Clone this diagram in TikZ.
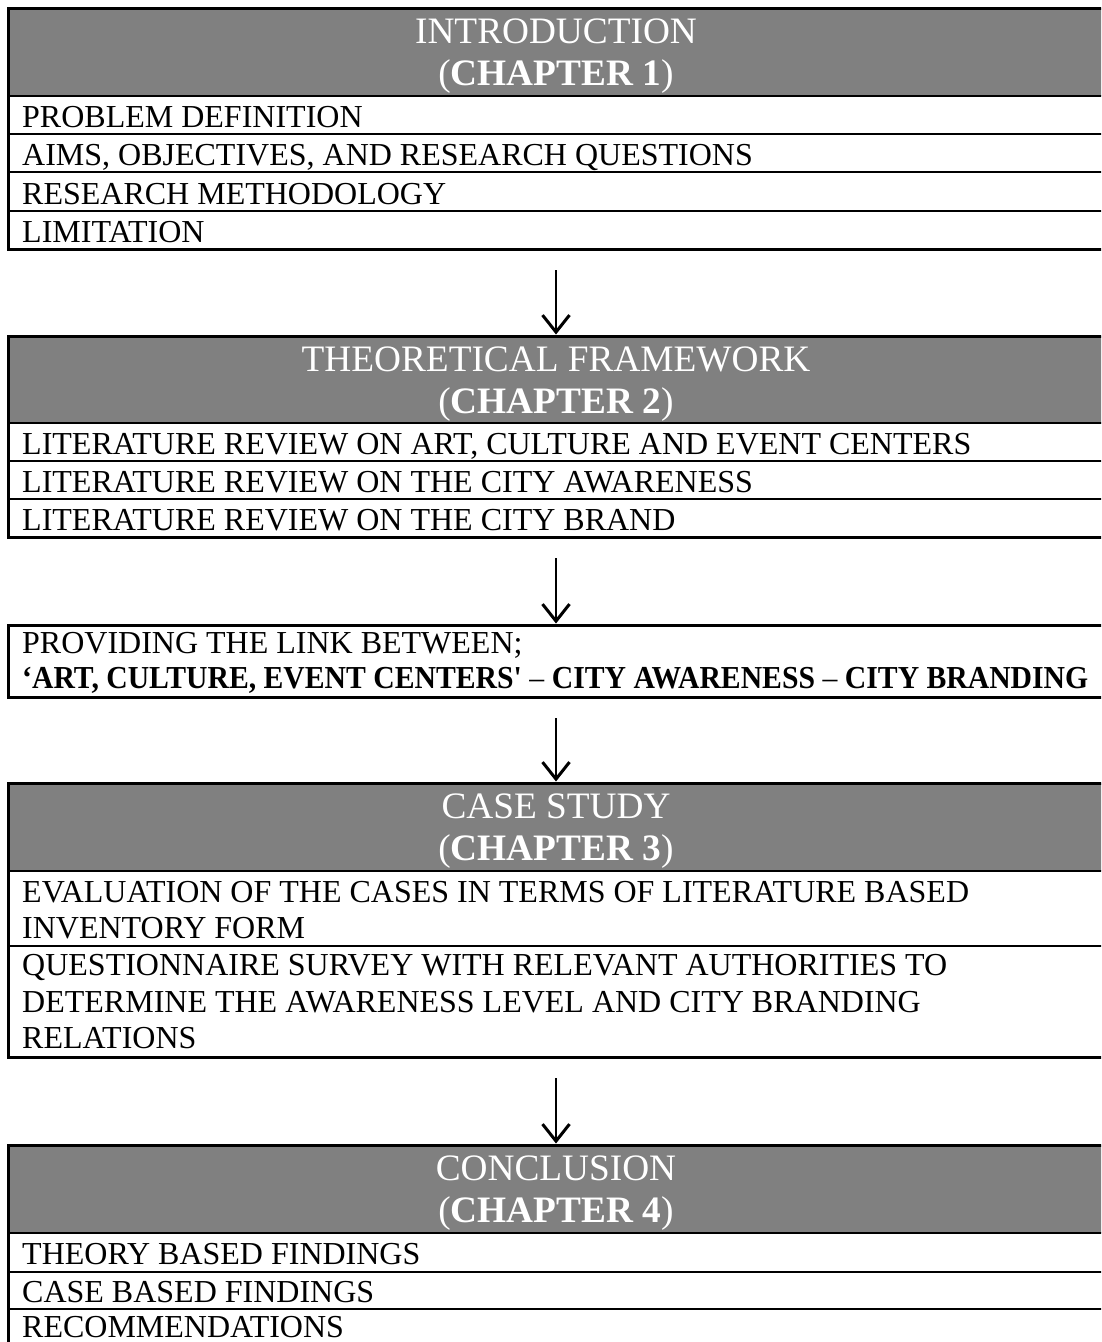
\documentclass[tikz,border=0pt]{standalone}
\usepackage{graphicx}
\usepackage{fontspec}
\setmainfont{Liberation Serif}[Ligatures=TeXOff]
\usetikzlibrary{arrows.meta}
\definecolor{headgray}{HTML}{808080}

\begin{document}
\begin{tikzpicture}[x=1pt,y=-1pt,
  frame/.style={draw=black, line width=3pt, anchor=north west, minimum width=1096pt,
                inner sep=0pt, outer sep=0pt},
  band/.style={fill=headgray, anchor=north west, minimum width=1096pt, minimum height=88pt,
               inner sep=0pt, outer sep=0pt},
  rule/.style={line width=2pt},
  item/.style={anchor=base west, inner sep=0pt, font=\fontsize{32}{37}\selectfont},
  title/.style={anchor=base, inner sep=0pt, text=white, font=\fontsize{37.3}{42}\selectfont},
  flow/.style={line width=2.5pt, -{Straight Barb[length=17pt,width=27pt,line width=3pt]},
               shorten <=21pt, shorten >=1.5pt},
]
\useasboundingbox (0,0) rectangle (1101,1342);
\clip (0,0) rectangle (1101,1342);

% ---------- Chapter 1 ----------
\node[band] (introhead) at (8,8) {};
\node[title] (introt1) at (556,43) {INTRODUCTION};
\node[title] (introt2) at (556,85) {(\textbf{CHAPTER 1})};
\foreach \y in {96,134,172,211} \draw[rule] (8,\y) -- (1104,\y);
\node[item] (i1) at (22,127) {PROBLEM DEFINITION};
\node[item] (i2) at (22,165) {AIMS, OBJECTIVES, AND RESEARCH QUESTIONS};
\node[item] (i3) at (22,204) {RESEARCH METHODOLOGY};
\node[item] (i4) at (22,242) {LIMITATION};
\node[frame, minimum height=241pt] (intro) at (8,8) {};

% ---------- Chapter 2 ----------
\node[band] (theoryhead) at (8,336) {};
\node[title] (theoryt1) at (556,371) {THEORETICAL FRAMEWORK};
\node[title] (theoryt2) at (556,413) {(\textbf{CHAPTER 2})};
\foreach \y in {423,461,499} \draw[rule] (8,\y) -- (1104,\y);
\node[item] (t1) at (22,454) {LITERATURE REVIEW ON ART, CULTURE AND EVENT CENTERS};
\node[item] (t2) at (22,492) {LITERATURE REVIEW ON THE CITY AWARENESS};
\node[item] (t3) at (22,530) {LITERATURE REVIEW ON THE CITY BRAND};
\node[frame, minimum height=201pt] (theory) at (8,336) {};

% ---------- Link ----------
\node[item] (l1) at (22,653) {PROVIDING THE LINK BETWEEN;};
\node[item] (l2) at (22,688) {\scalebox{0.928}[1]{\textbf{‘ART, CULTURE, EVENT CENTERS'} – \textbf{CITY AWARENESS} – \textbf{CITY BRANDING}}};
\node[frame, minimum height=72pt] (link) at (8,625) {};

% ---------- Chapter 3 ----------
\node[band] (casehead) at (8,783) {};
\node[title] (caset1) at (556,818) {CASE STUDY};
\node[title] (caset2) at (556,860) {(\textbf{CHAPTER 3})};
\foreach \y in {871,946} \draw[rule] (8,\y) -- (1104,\y);
\node[item] (c1) at (22,902) {EVALUATION OF THE CASES IN TERMS OF LITERATURE BASED};
\node[item] (c2) at (22,938) {INVENTORY FORM};
\node[item] (c3) at (22,975) {QUESTIONNAIRE SURVEY WITH RELEVANT AUTHORITIES TO};
\node[item] (c4) at (22,1012) {DETERMINE THE AWARENESS LEVEL AND CITY BRANDING};
\node[item] (c5) at (22,1048) {RELATIONS};
\node[frame, minimum height=274pt] (cases) at (8,783) {};

% ---------- Chapter 4 ----------
\node[band] (conchead) at (8,1145) {};
\node[title] (conct1) at (556,1180) {CONCLUSION};
\node[title] (conct2) at (556,1222) {(\textbf{CHAPTER 4})};
\foreach \y in {1233,1272,1309} \draw[rule] (8,\y) -- (1104,\y);
\node[item] (k1) at (22,1264) {THEORY BASED FINDINGS};
\node[item] (k2) at (22,1302) {CASE BASED FINDINGS};
\node[item] (k3) at (22,1337) {RECOMMENDATIONS};
\node[frame, minimum height=202pt] (concl) at (8,1145) {};

% ---------- Flow ----------
\draw[flow] (intro.south) -- (theory.north);
\draw[flow] (theory.south) -- (link.north);
\draw[flow] (link.south) -- (cases.north);
\draw[flow] (cases.south) -- (concl.north);
\end{tikzpicture}
\end{document}
